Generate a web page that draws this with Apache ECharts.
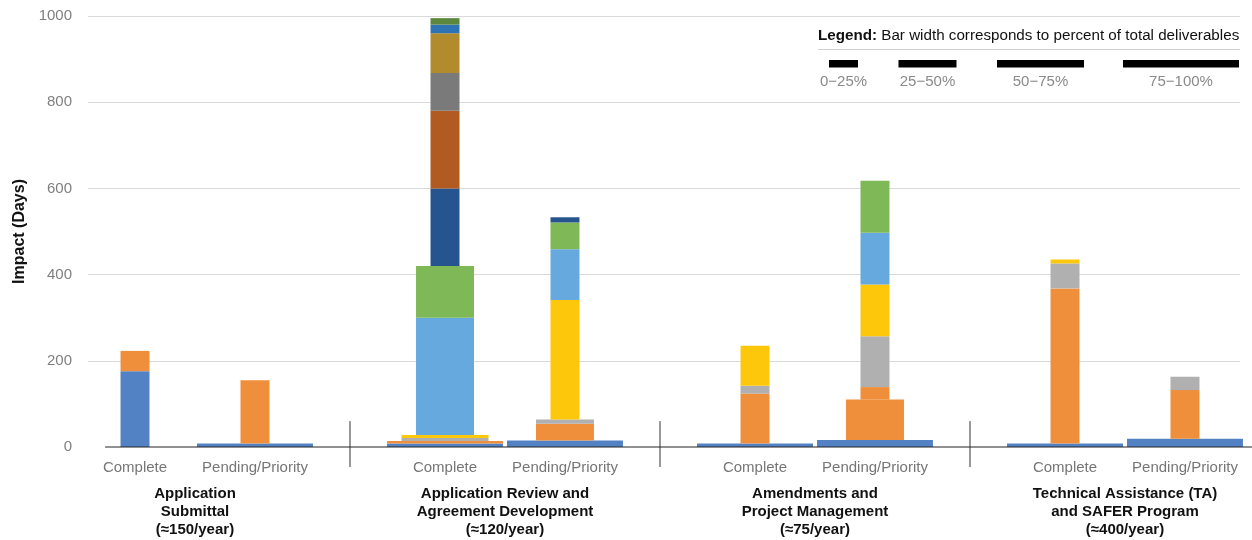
<!DOCTYPE html>
<html>
<head>
<meta charset="utf-8">
<script src="https://cdn.jsdelivr.net/npm/echarts@6/dist/echarts.min.js"></script>
<style>
  html, body { margin: 0; padding: 0; background: #fff; }
  #chart { width: 1252px; height: 540px; }
</style>
</head>
<body>
<div id="chart"></div>
<script>
// ---- Data -------------------------------------------------------------
const GROUPS = [
  'Application\nSubmittal\n(≈150/year)',
  'Application Review and\nAgreement Development\n(≈120/year)',
  'Amendments and\nProject Management\n(≈75/year)',
  'Technical Assistance (TA)\nand SAFER Program\n(≈400/year)'
];
const STATUSES = ['Complete', 'Pending/Priority'];
const SHARE_LABELS = ['0\u221225%', '25\u221250%', '50\u221275%', '75\u2212100%'];

// One entry per bar, ordered group by group (Complete, then Pending/Priority).
// Segment impact in days, stacked bottom to top.
const segmentDays = [
  [176, 47],
  [8, 147],
  [8, 6, 7, 7, 272, 120, 180, 180, 88, 92, 20, 15],
  [15, 39, 10, 277, 118, 62, 12],
  [8, 116, 18, 93],
  [16, 94, 29, 118, 120, 120, 121],
  [8, 360, 58, 9],
  [19, 113, 31]
];
// Share of total deliverables for each segment, as a quartile (1 = 0–25% … 4 = 75–100%).
const segmentShare = [
  [1, 1],
  [4, 1],
  [4, 4, 3, 3, 2, 2, 1, 1, 1, 1, 1, 1],
  [4, 2, 2, 1, 1, 1, 1],
  [4, 1, 1, 1],
  [4, 2, 1, 1, 1, 1, 1],
  [4, 1, 1, 1],
  [4, 1, 1]
];
// Deliverable type of each segment (index into the palette).
const segmentType = [
  [0, 1],
  [0, 1],
  [0, 1, 2, 3, 4, 5, 6, 7, 8, 9, 10, 11],
  [0, 1, 2, 3, 4, 5, 6],
  [0, 1, 2, 3],
  [0, 1, 1, 2, 3, 4, 5],
  [0, 1, 2, 3],
  [0, 1, 2]
];

// ---- Styling / layout ---------------------------------------------------
const PALETTE = ['#5282c4', '#ef8f3c', '#b0b0b0', '#fdc70c', '#65a9de', '#7fb857',
                 '#26548f', '#b15a22', '#7a7a7a', '#b18b2e', '#2e73b4', '#5c883d'];
const FONT = '"Liberation Sans", Arial, Helvetica, sans-serif';
const STATUS_OFFSET = 0.1935;   // distance of each status bar from its group centre (group units)
const QUARTILE_WIDTH = 0.0935;  // bar width per share quartile (group units)
const AXIS_START = -0.29;       // where the baseline begins
const AXIS_END = 3.42;

// Build stacked segment records: [centre, bottom, top, quartile, type]
const segments = [];
segmentDays.forEach((days, bar) => {
  const g = Math.floor(bar / 2);
  const centre = g + (bar % 2 === 0 ? -STATUS_OFFSET : STATUS_OFFSET);
  let base = 0;
  days.forEach((d, i) => {
    segments.push([centre, base, base + d, segmentShare[bar][i], segmentType[bar][i]]);
    base += d;
  });
});

function renderSegment(params, api) {
  const cx = api.value(0), y0 = api.value(1), y1 = api.value(2);
  const half = api.value(3) * QUARTILE_WIDTH / 2;
  const p0 = api.coord([cx - half, y1]);
  const p1 = api.coord([cx + half, y0]);
  return {
    type: 'rect',
    shape: { x: p0[0], y: p0[1], width: p1[0] - p0[0], height: p1[1] - p0[1] },
    style: { fill: PALETTE[api.value(4)] }
  };
}

function renderGroup(params, api) {
  const g = api.value(0);
  const base = api.coord([g, 0]);
  const children = [];
  // baseline segment for this group
  const left = api.coord([g === 0 ? AXIS_START : g - 0.5, 0])[0];
  const right = api.coord([g === GROUPS.length - 1 ? AXIS_END : g + 0.5, 0])[0];
  children.push({ type: 'line', shape: { x1: left, y1: base[1], x2: right, y2: base[1] },
                  style: { stroke: '#222', lineWidth: 1.2 } });
  // separator to the right of the group
  if (g < GROUPS.length - 1) {
    const top = api.coord([g + 0.5, 60]);
    children.push({ type: 'line', shape: { x1: top[0], y1: top[1], x2: top[0], y2: base[1] + 20 },
                    style: { stroke: '#333', lineWidth: 1 } });
  }
  STATUSES.forEach((s, i) => {
    const p = api.coord([g + (i === 0 ? -STATUS_OFFSET : STATUS_OFFSET), 0]);
    children.push({ type: 'text', x: p[0], y: p[1] + 21,
      style: { text: s, fill: '#767676', fontSize: 15, fontFamily: FONT,
               align: 'center', verticalAlign: 'middle' } });
  });
  children.push({ type: 'text', x: base[0], y: base[1] + 38,
    style: { text: GROUPS[g], fill: '#111', fontSize: 15, fontWeight: 'bold', fontFamily: FONT,
             lineHeight: 18, align: 'center', verticalAlign: 'top' } });
  return { type: 'group', children };
}

// Legend: bar widths for each share quartile
const legendPx = 29;
const legendCentres = [843.5, 927.5, 1040.5, 1181];
const legendGraphics = [
  { type: 'text', left: 818, top: 28,
    style: { text: '{b|Legend:} Bar width corresponds to percent of total deliverables',
             fill: '#111', fontSize: 15.2, fontFamily: FONT,
             rich: { b: { fontWeight: 'bold', fontSize: 15.2, fontFamily: FONT, fill: '#111' } } } },
  { type: 'line', shape: { x1: 818, y1: 49.5, x2: 1240, y2: 49.5 },
    style: { stroke: '#d0d0d0', lineWidth: 1 } }
];
SHARE_LABELS.forEach((lbl, i) => {
  const w = legendPx * (i + 1);
  legendGraphics.push({ type: 'rect', shape: { x: legendCentres[i] - w / 2, y: 60, width: w, height: 7.5 },
                        style: { fill: '#000' } });
  legendGraphics.push({ type: 'text', x: legendCentres[i], y: 82,
    style: { text: lbl, fill: '#8a8a8a', fontSize: 15, fontFamily: FONT,
             align: 'center', verticalAlign: 'middle' } });
});

const chart = echarts.init(document.getElementById('chart'));
chart.setOption({
  animation: false,
  backgroundColor: '#fff',
  grid: { left: 88, right: 12, top: 16, bottom: 93 },
  xAxis: { type: 'value', min: -0.34516, max: 3.37097, show: false },
  yAxis: {
    type: 'value', min: 0, max: 1000, interval: 200,
    name: 'Impact (Days)', nameLocation: 'middle', nameGap: 59,
    nameTextStyle: { fontSize: 16, fontWeight: 'bold', color: '#111', fontFamily: FONT },
    axisLine: { show: false }, axisTick: { show: false },
    axisLabel: { color: '#7f7f7f', fontSize: 15, margin: 16, fontFamily: FONT,
                 formatter: v => String(v) },
    splitLine: { lineStyle: { color: ['rgba(0,0,0,0)', '#d9d9d9', '#d9d9d9', '#d9d9d9', '#d9d9d9', '#d9d9d9'], width: 1 } }
  },
  graphic: legendGraphics,
  series: [
    { type: 'custom', renderItem: renderSegment, data: segments, clip: false,
      encode: { x: 0, y: [1, 2] } },
    { type: 'custom', renderItem: renderGroup, data: GROUPS.map((_, g) => [g]), clip: false,
      encode: { x: 0 }, z: 3 }
  ]
});
</script>
</body>
</html>
